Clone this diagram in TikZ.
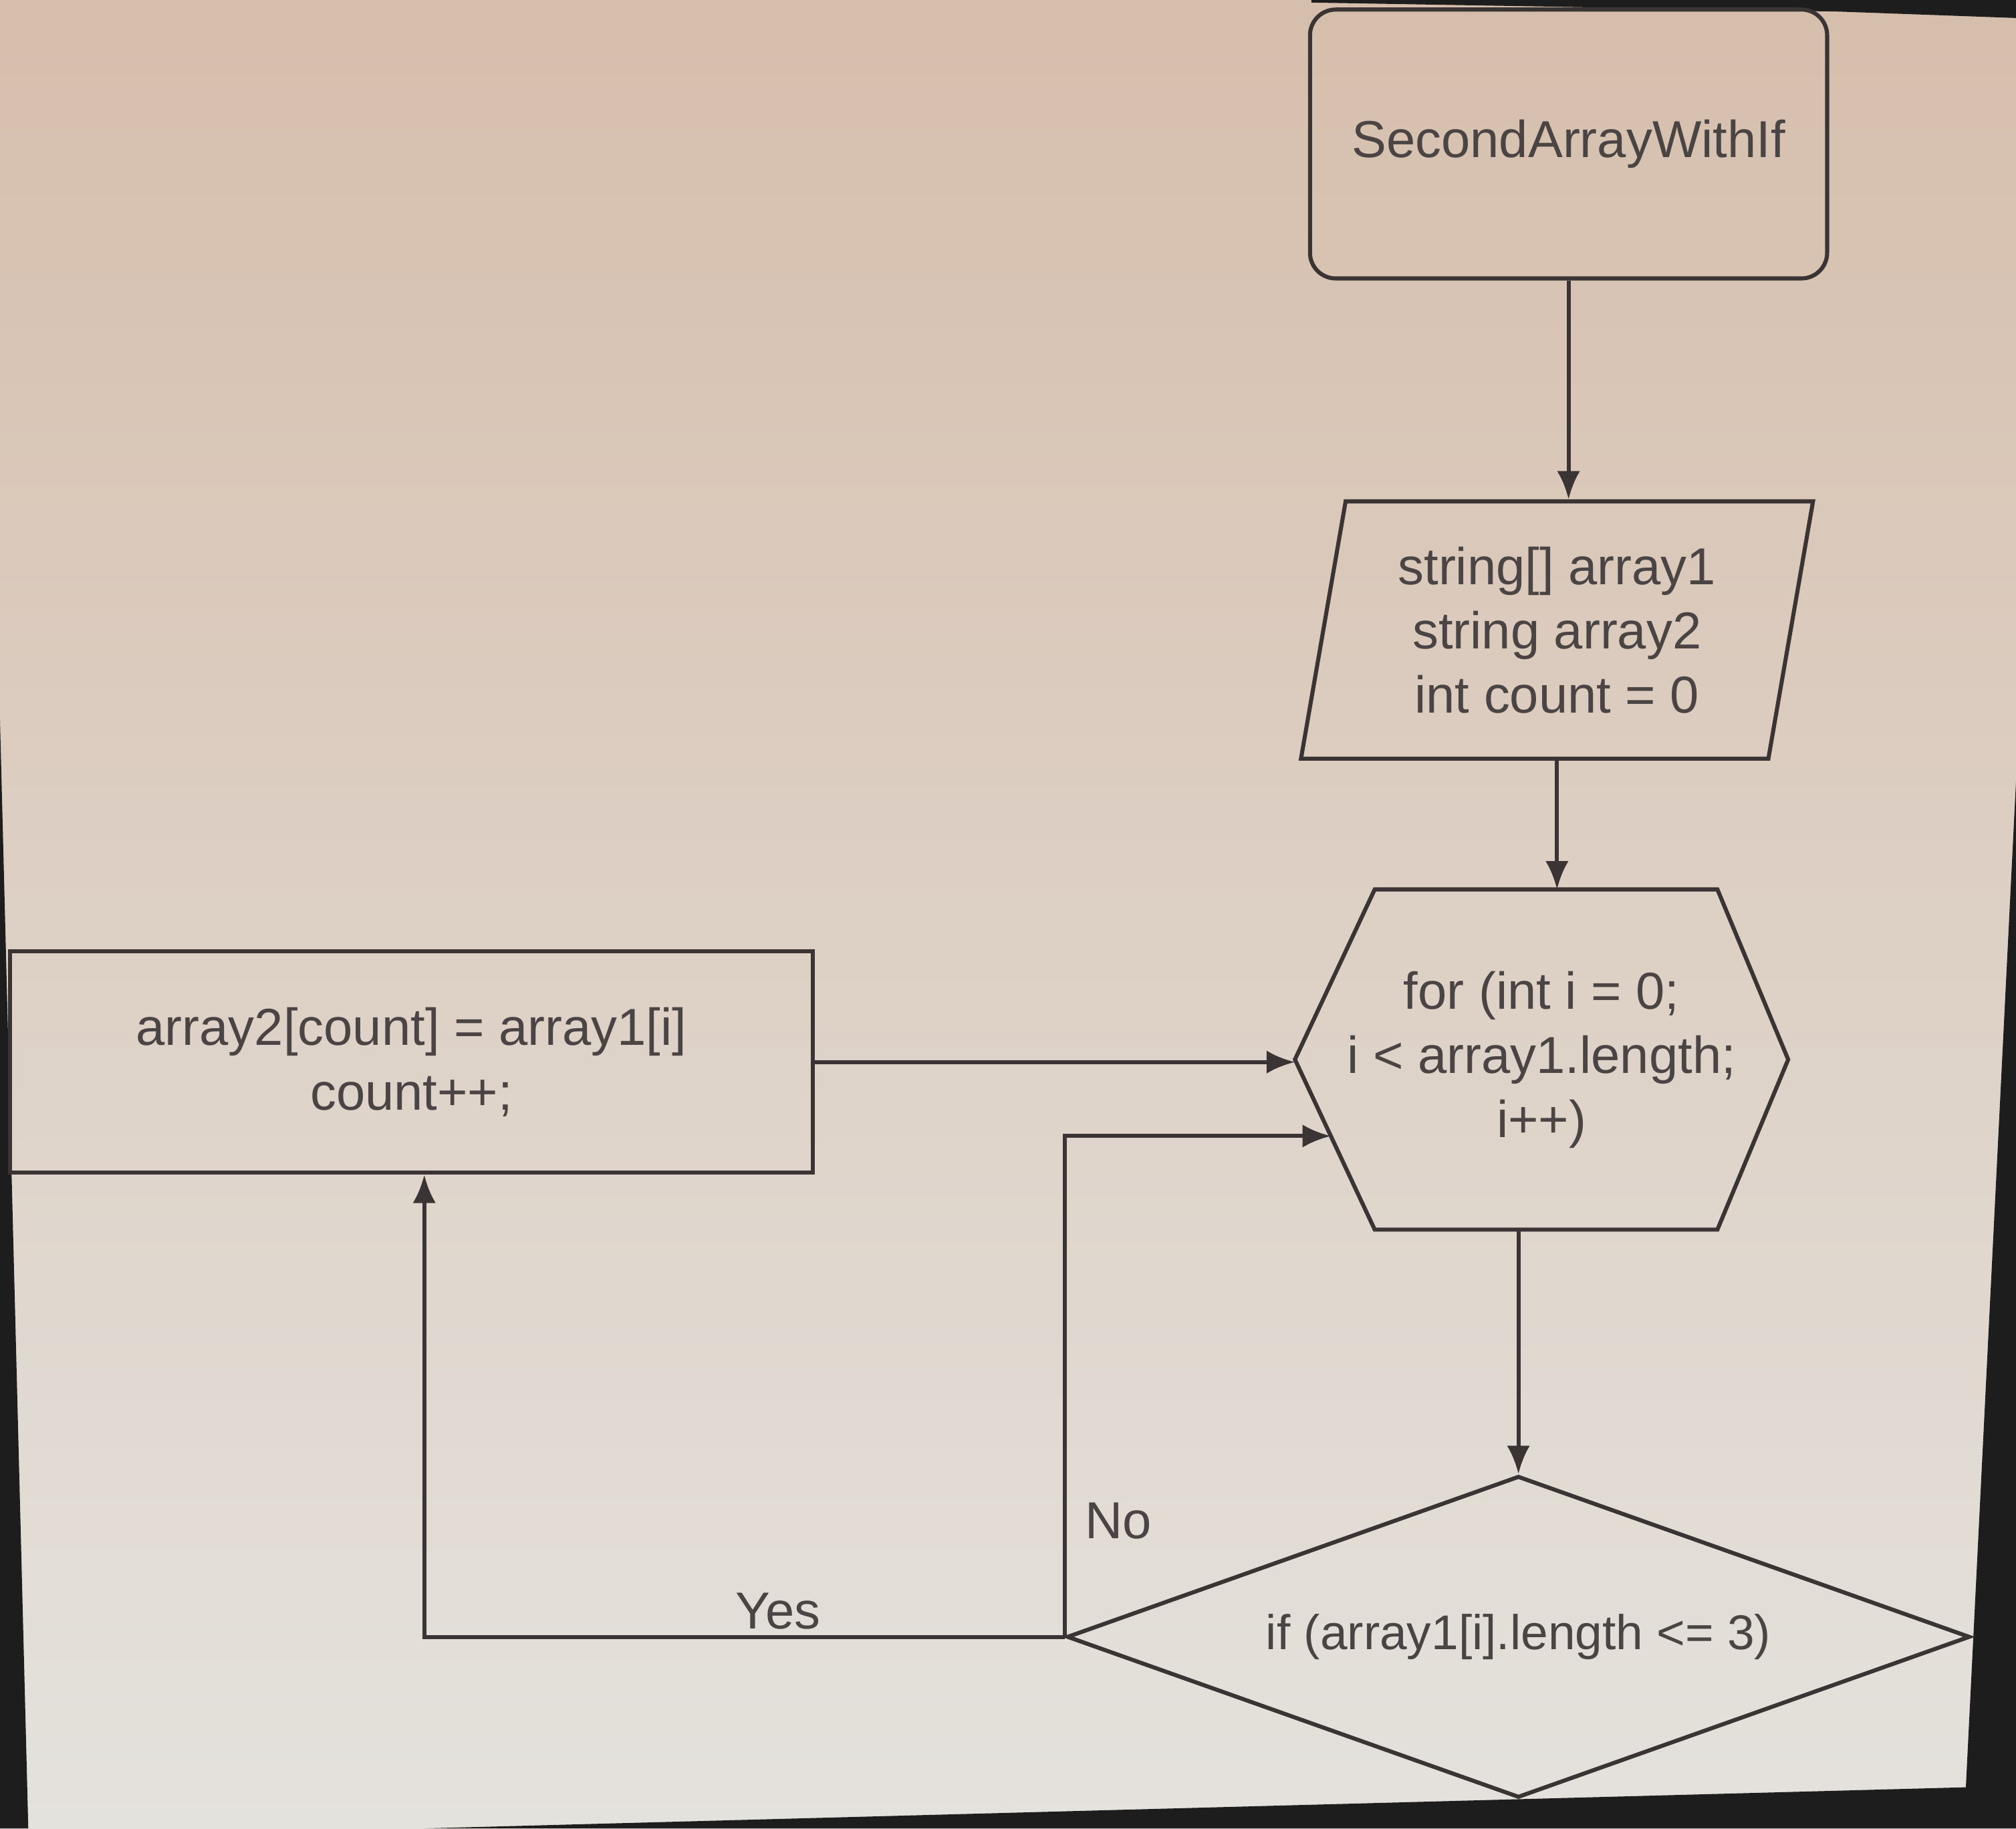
\documentclass[tikz,border=0pt]{standalone}
\usepackage{fontspec}
\setmainfont{Liberation Sans}
\usetikzlibrary{shapes.geometric,arrows.meta,calc}
\definecolor{ink}{RGB}{58,52,52}
\definecolor{txt}{RGB}{74,68,68}
\definecolor{paperTop}{RGB}{214,190,172}
\definecolor{paperBot}{RGB}{228,226,221}
\definecolor{bezel}{RGB}{30,29,30}
\begin{document}
\begin{tikzpicture}[x=0.01cm,y=-0.01cm,
    every node/.style={text=txt,font=\fontsize{11.5}{14.2}\selectfont,align=center},
    line/.style={draw=ink,line width=0.9pt},
    arr/.style={line,-{Latex[length=2.2mm,width=1.8mm]}},
    startbox/.style={line,rectangle,rounded corners=0.2cm,minimum width=4.02cm,minimum height=2.09cm},
    iobox/.style={line,trapezium,trapezium left angle=75,trapezium right angle=105,
      trapezium stretches body,minimum width=3.98cm,minimum height=2cm,inner sep=0pt},
    procbox/.style={line,rectangle,minimum width=6.24cm,minimum height=1.72cm},
    loopbox/.style={rectangle,minimum width=3.82cm,minimum height=2.63cm},
    ifbox/.style={line,diamond,aspect=2.8,minimum width=7.02cm,minimum height=2.5cm,inner sep=0pt,
      font=\fontsize{10.8}{13}\selectfont}]
  % photo of the screen
  \shade[top color=paperTop,bottom color=paperBot] (0,0) rectangle (1568,1422);
  \fill[bezel] (1568,608) -- (1529,1390) -- (330,1422) -- (1568,1422) -- cycle;
  \fill[bezel] (1020,0) -- (1568,0) -- (1568,14) -- (1430,9) -- (1020,2) -- cycle;
  \fill[bezel] (0,560) -- (22,1422) -- (0,1422) -- cycle;
  \useasboundingbox (0,0) rectangle (1568,1422);

  \node[startbox] (start) at (1220,112) {SecondArrayWithIf};
  \node[iobox] (io) at (1211,490) {string[] array1\\ string array2\\ int count = 0};
  \node[loopbox] (loop) at (1199,824) {for (int i = 0;\\ i < array1.length;\\ i++)};
  \draw[line] ([xshift=0.62cm]loop.north west) -- ([xshift=-0.55cm]loop.north east) -- (loop.east)
    -- ([xshift=-0.55cm]loop.south east) -- ([xshift=0.62cm]loop.south west) -- (loop.west) -- cycle;
  \coordinate (loopin) at ($(loop.west)!0.45!([xshift=0.62cm]loop.south west)$);
  \node[procbox] (work) at (320,826) {array2[count] = array1[i]\\ count++;};
  \node[ifbox] (cond) at (1181,1273) {if (array1[i].length <= 3)};

  \draw[arr] (start.south) -- (start.south |- io.north);
  \draw[arr] (io.south) -- (io.south |- loop.north);
  \draw[arr] (cond.north |- loop.south) -- (cond.north);
  \draw[arr] (work.east) -- (work.east -| loop.west);
  \draw[arr] (cond.west) -| ([xshift=0.1cm]work.south);
  \draw[arr] (cond.west) |- (loopin);
  \node (yes) at (605,1253) {Yes};
  \node (no) at (870,1183) {No};
\end{tikzpicture}
\end{document}
